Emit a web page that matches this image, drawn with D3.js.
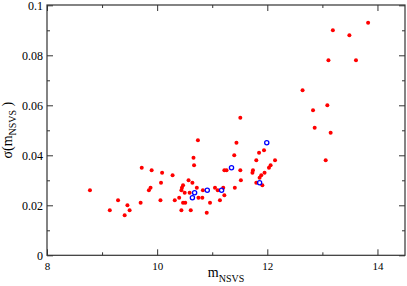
<!DOCTYPE html>
<html>
<head>
<meta charset="utf-8">
<script src="https://cdn.jsdelivr.net/npm/d3@7"></script>
<style>
  body { margin: 0; background: #fff; }
  svg { display: block; font-family: "Liberation Serif", "DejaVu Serif", serif; }
</style>
</head>
<body>
<svg width="407" height="286"></svg>
<script>
// red points: m_NSVS and sigma
const redX = [8.78, 9.14, 9.29, 9.41, 9.46, 9.50, 9.70, 9.72, 9.85, 9.88, 9.90,
  10.06, 10.07, 10.09, 10.28, 10.32, 10.40, 10.44, 10.44, 10.45, 10.47, 10.50, 10.47, 10.51,
  10.57, 10.59, 10.61, 10.64, 10.66, 10.67, 10.72, 10.74, 10.75, 10.82, 10.83, 10.90, 10.96,
  11.05, 11.10, 11.14, 11.20, 11.22, 11.22, 11.26, 11.40, 11.41, 11.44, 11.51, 11.51, 11.52,
  11.73, 11.74, 11.80, 11.80, 11.85, 11.86, 11.89, 11.91, 11.94, 11.95, 12.03, 12.06, 12.14,
  12.64, 12.83, 12.86, 13.06, 13.09, 13.11, 13.15, 13.19, 13.49, 13.61, 13.83]
const redY = [0.026, 0.018, 0.022, 0.016, 0.020, 0.018, 0.021, 0.035, 0.026, 0.027, 0.034,
  0.022, 0.029, 0.033, 0.032, 0.022, 0.023, 0.018, 0.026, 0.027, 0.028, 0.025, 0.021, 0.021,
  0.030, 0.025, 0.018, 0.029, 0.039, 0.036, 0.027, 0.046, 0.023, 0.023, 0.026, 0.017, 0.021,
  0.027, 0.026, 0.022, 0.027, 0.024, 0.034, 0.034, 0.040, 0.027, 0.045, 0.055, 0.034, 0.030,
  0.033, 0.034, 0.038, 0.029, 0.041, 0.031, 0.032, 0.028, 0.042, 0.033, 0.035, 0.036, 0.038,
  0.066, 0.058, 0.051, 0.038, 0.060, 0.078, 0.049, 0.090, 0.088, 0.078, 0.093]

// blue open circles
const blueX = [10.64, 10.68, 10.91, 11.17, 11.35, 11.86, 11.99]
const blueY = [0.023, 0.025, 0.026, 0.026, 0.035, 0.029, 0.045]

const xTicks = [8, 10, 12, 14]
const xMinor = [9, 11, 13]
const yTicks = [0, 0.02, 0.04, 0.06, 0.08, 0.1]
const yMinor = [0.01, 0.03, 0.05, 0.07, 0.09]

const mLeft = 47, mTop = 5, mRight = 405, mBottom = 255.3

const svg = d3.select("svg")

const x = d3.scaleLinear().domain([8, 14.5]).range([mLeft, mRight])
const y = d3.scaleLinear().domain([0, 0.1]).range([mBottom, mTop + 0.3])

const axisColor = "#333"

function styleAxis(g) {
  g.attr("font-family", null)
  g.select(".domain").remove()
  g.selectAll(".tick line").attr("stroke", axisColor)
  g.selectAll(".tick text").attr("fill", "#000")
}

// bottom
svg.append("g")
  .attr("transform", `translate(0,${mBottom})`)
  .call(d3.axisBottom(x).tickValues(xTicks).tickSizeInner(-6).tickSizeOuter(0).tickPadding(7)
    .tickFormat(d3.format("d")))
  .call(styleAxis)
  .attr("font-size", 11)
svg.append("g")
  .attr("transform", `translate(0,${mBottom})`)
  .call(d3.axisBottom(x).tickValues(xMinor).tickSize(-3).tickFormat(""))
  .call(styleAxis)

// top
svg.append("g")
  .attr("transform", `translate(0,${mTop})`)
  .call(d3.axisTop(x).tickValues(xTicks).tickSize(-6).tickFormat(""))
  .call(styleAxis)
svg.append("g")
  .attr("transform", `translate(0,${mTop})`)
  .call(d3.axisTop(x).tickValues(xMinor).tickSize(-3).tickFormat(""))
  .call(styleAxis)

// left
svg.append("g")
  .attr("transform", `translate(${mLeft},0)`)
  .call(d3.axisLeft(y).tickValues(yTicks).tickSizeInner(-6).tickSizeOuter(0).tickPadding(4)
    .tickFormat(d => d === 0 ? "0" : String(+d.toFixed(2))))
  .call(styleAxis)
  .attr("font-size", 12)
svg.append("g")
  .attr("transform", `translate(${mLeft},0)`)
  .call(d3.axisLeft(y).tickValues(yMinor).tickSize(-3).tickFormat(""))
  .call(styleAxis)

// right
svg.append("g")
  .attr("transform", `translate(${mRight},0)`)
  .call(d3.axisRight(y).tickValues(yTicks).tickSize(-6).tickFormat(""))
  .call(styleAxis)
svg.append("g")
  .attr("transform", `translate(${mRight},0)`)
  .call(d3.axisRight(y).tickValues(yMinor).tickSize(-3).tickFormat(""))
  .call(styleAxis)

// frame
svg.append("rect")
  .attr("x", mLeft)
  .attr("y", mTop)
  .attr("width", mRight - mLeft)
  .attr("height", mBottom - mTop)
  .attr("fill", "none")
  .attr("stroke", axisColor)
  .attr("stroke-width", 1.2)

// points
svg.append("g")
  .selectAll("circle")
  .data(redX.map((d, i) => [d, redY[i]]))
  .join("circle")
  .attr("cx", d => x(d[0]))
  .attr("cy", d => y(d[1]))
  .attr("r", 2)
  .attr("fill", "#ff0000")

svg.append("g")
  .selectAll("circle")
  .data(blueX.map((d, i) => [d, blueY[i]]))
  .join("circle")
  .attr("cx", d => x(d[0]))
  .attr("cy", d => y(d[1]))
  .attr("r", 2.1)
  .attr("fill", "none")
  .attr("stroke", "#0000ff")
  .attr("stroke-width", 1.3)

// axis labels
const xl = svg.append("text")
  .attr("x", (mLeft + mRight) / 2)
  .attr("y", 277)
  .attr("text-anchor", "middle")
  .attr("font-size", 14)
xl.append("tspan").text("m")
xl.append("tspan").attr("dy", 5).attr("font-size", 10).text("NSVS")

const yl = svg.append("text")
  .attr("transform", `translate(12,${(mTop + mBottom) / 2}) rotate(-90)`)
  .attr("text-anchor", "middle")
  .attr("font-size", 14)
yl.append("tspan").text("σ(m")
yl.append("tspan").attr("dy", 4).attr("font-size", 10).text("NSVS")
yl.append("tspan").attr("dy", -4).text(" )")
</script>
</body>
</html>
